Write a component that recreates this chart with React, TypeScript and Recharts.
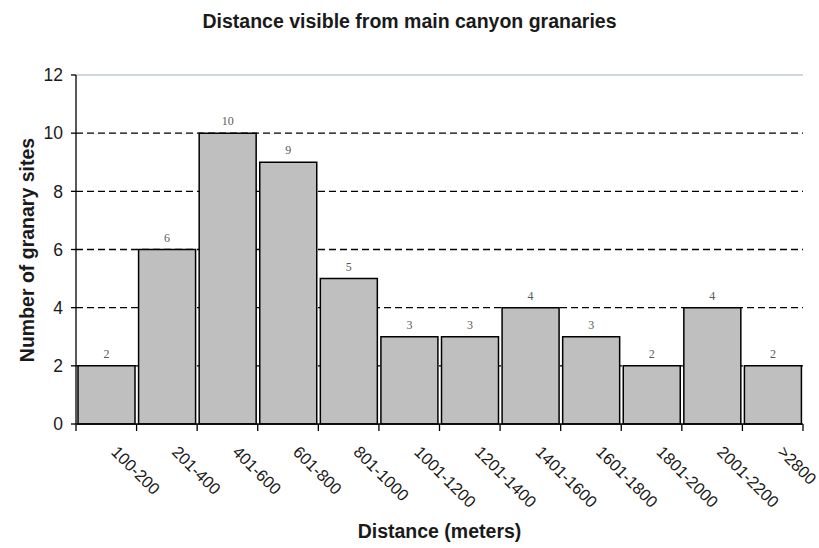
import { BarChart, Bar, XAxis, YAxis, CartesianGrid, LabelList, ReferenceLine } from 'recharts';

const categories = ['100-200', '201-400', '401-600', '601-800', '801-1000', '1001-1200', '1201-1400', '1401-1600', '1601-1800', '1801-2000', '2001-2200', '>2800'];
const sites = [2, 6, 10, 9, 5, 3, 3, 4, 3, 2, 4, 2];
const yTicks = [0, 2, 4, 6, 8, 10, 12];
const gridValues = [2, 4, 6, 8, 10];

const W = 819;
const H = 548;
const PLOT_LEFT = 76;
const PLOT_RIGHT = 16;
const STEP = (W - PLOT_LEFT - PLOT_RIGHT) / categories.length;
const SANS = '"Liberation Sans", Arial, sans-serif';

function CategoryTick(props: any) {
  const { x, y, index, payload } = props;
  const left = x - STEP / 2;
  const tx = x + 4;
  const ty = y + 29;
  return (
    <g>
      <line x1={left} y1={y} x2={left} y2={y + 7} stroke="#000" strokeWidth={1.3} />
      {index === categories.length - 1 && (
        <line x1={x + STEP / 2} y1={y} x2={x + STEP / 2} y2={y + 7} stroke="#000" strokeWidth={1.3} />
      )}
      <text
        x={tx}
        y={ty}
        transform={`rotate(45 ${tx} ${ty})`}
        textAnchor="start"
        fontFamily={SANS}
        fontSize={16.5}
        fill="#1a1a1a"
      >
        {payload.value}
      </text>
    </g>
  );
}

export default function App() {
  const data = categories.map((c, i) => ({ range: c, count: sites[i] }));

  return (
    <div style={{ position: 'absolute', left: 0, top: 0, width: W, height: H, background: '#fff' }}>
      <div
        style={{
          position: 'absolute',
          left: 0,
          top: 10,
          width: W,
          textAlign: 'center',
          fontFamily: SANS,
          fontWeight: 'bold',
          fontSize: 19.5,
          color: '#1a1a1a',
        }}
      >
        Distance visible from main canyon granaries
      </div>
      <BarChart
        width={W}
        height={H}
        data={data}
        margin={{ top: 75, right: PLOT_RIGHT, left: 0, bottom: 0 }}
        barCategoryGap={2}
      >
        <CartesianGrid horizontal vertical={false} horizontalValues={gridValues} stroke="#000" strokeDasharray="7 4" strokeWidth={1.3} />
        <ReferenceLine y={12} stroke="#9fb0bf" strokeWidth={1.2} />
        <XAxis
          dataKey="range"
          height={124}
          interval={0}
          axisLine={{ stroke: '#000', strokeWidth: 1.3 }}
          tickLine={false}
          tickSize={0}
          tickMargin={0}
          tick={<CategoryTick />}
          label={{
            value: 'Distance (meters)',
            position: 'insideBottom',
            offset: 10,
            fontFamily: SANS,
            fontWeight: 'bold',
            fontSize: 19.5,
            fill: '#1a1a1a',
          }}
        />
        <YAxis
          width={PLOT_LEFT}
          domain={[0, 12]}
          ticks={yTicks}
          interval={0}
          axisLine={{ stroke: '#000', strokeWidth: 1.3 }}
          tickLine={{ stroke: '#000', strokeWidth: 1.3 }}
          tickSize={5}
          tickMargin={8}
          tick={{ fontFamily: SANS, fontSize: 17.5, fill: '#1a1a1a' }}
          label={{
            value: 'Number of granary sites',
            content: () => (
              <text
                x={27}
                y={250}
                transform="rotate(-90 27 250)"
                textAnchor="middle"
                dominantBaseline="central"
                fontFamily={SANS}
                fontWeight="bold"
                fontSize={19.5}
                fill="#1a1a1a"
              >
                Number of granary sites
              </text>
            ),
          }}
        />
        <YAxis
          yAxisId="right"
          orientation="right"
          width={0}
          domain={[0, 12]}
          tick={false}
          tickLine={false}
          axisLine={{ stroke: '#9fb0bf', strokeWidth: 1.2 }}
        />
        <Bar dataKey="count" fill="#bfbfbf" stroke="#000" strokeWidth={1.5} isAnimationActive={false}>
          <LabelList dataKey="count" position="top" offset={8} fontFamily='"Liberation Serif", "Times New Roman", serif' fontSize={12} fill="#5a5a5a" />
        </Bar>
      </BarChart>
    </div>
  );
}
